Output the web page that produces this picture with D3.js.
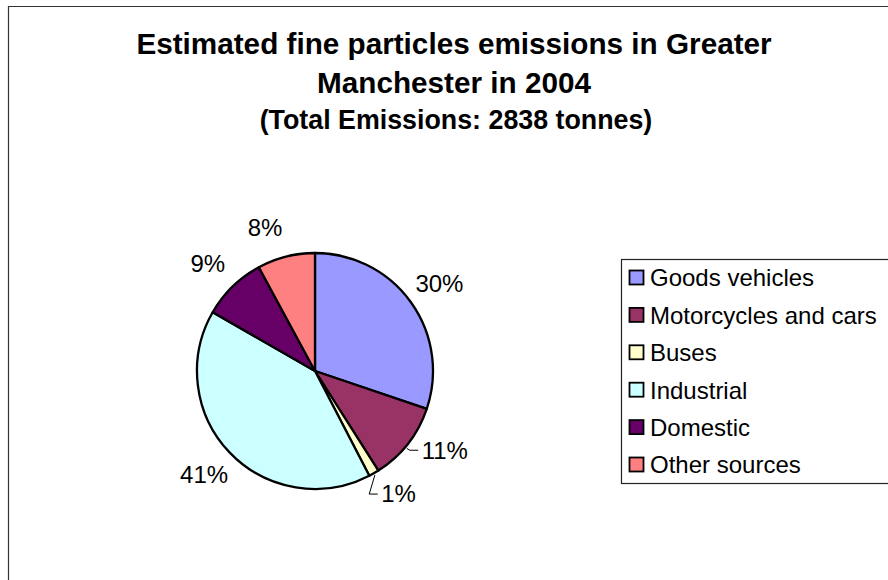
<!DOCTYPE html>
<html>
<head>
<meta charset="utf-8">
<script src="https://cdn.jsdelivr.net/npm/d3@7"></script>
<style>
  html, body { margin: 0; padding: 0; background: #fff; }
  svg { display: block; }
  text { font-family: "Liberation Sans", Arial, sans-serif; fill: #000; }
</style>
</head>
<body>
<svg id="chart" width="888" height="580"></svg>
<script>
// Emission sources, in the order they run clockwise from 12 o'clock
const sources = ["Goods vehicles", "Motorcycles and cars", "Buses", "Industrial", "Domestic", "Other sources"];
// Estimated emissions per source, tonnes (total 2838)
const tonnes = [857, 306, 40, 1161, 250, 224];
const colours = ["#9999FF", "#993366", "#FFFFCC", "#CCFFFF", "#660066", "#FF8080"];

const titleLines = ["Estimated fine particles emissions in Greater", "Manchester in 2004"];
const subtitle = "(Total Emissions: 2838 tonnes)";

// Label layout: angular nudge (degrees) from each slice's mid angle, and which get a leader line
const labelNudge = [0.6, -6.7, -6, 0.6, -0.6, -5];
const hasLeader = [false, true, true, false, false, false];

const W = 888, H = 580;
const svg = d3.select("#chart");

// Chart area frame (top and left edges)
svg.append("path")
  .attr("d", `M8.5,${H} V6.5 H${W}`)
  .attr("fill", "none")
  .attr("stroke", "#333")
  .attr("stroke-width", 1.2);

// Titles
const cx = 454;
svg.append("text").attr("x", cx).attr("y", 53.5).attr("text-anchor", "middle")
  .style("font-weight", "bold").style("font-size", "29.7px").text(titleLines[0]);
svg.append("text").attr("x", cx).attr("y", 93).attr("text-anchor", "middle")
  .style("font-weight", "bold").style("font-size", "29.7px").text(titleLines[1]);
svg.append("text").attr("x", cx + 2).attr("y", 129).attr("text-anchor", "middle")
  .style("font-weight", "bold").style("font-size", "26.8px").text(subtitle);

// Pie
const R = 118;
const pieCenter = [315, 371];
const total = d3.sum(tonnes);
const data = sources.map((s, i) => ({ source: s, value: tonnes[i], colour: colours[i], i }));

const pie = d3.pie().value(d => d.value).sort(null);
const arcs = pie(data);
const arc = d3.arc().innerRadius(0).outerRadius(R);

const g = svg.append("g").attr("transform", `translate(${pieCenter[0]},${pieCenter[1]})`);

g.selectAll("path.slice")
  .data(arcs)
  .join("path")
  .attr("class", "slice")
  .attr("d", arc)
  .attr("fill", d => d.data.colour)
  .attr("stroke", "#000")
  .attr("stroke-width", 2.3)
  .attr("stroke-linejoin", "round");

// Percentage labels
const pct = d3.format(".0%");
const polar = (angle, r) => [r * Math.sin(angle), -r * Math.cos(angle)];
const labelR = 152;

arcs.forEach(a => {
  const i = a.data.i;
  const mid = (a.startAngle + a.endAngle) / 2;
  const la = mid + labelNudge[i] * Math.PI / 180;
  const [lx, ly] = polar(la, labelR);
  const txt = pct(a.data.value / total);
  if (hasLeader[i]) {
    // text begins to the right of a short elbow line pointing back to the slice
    const tx = lx - 23;
    const edge = polar(mid + (i === 1 ? 2 : 0) * Math.PI / 180, R + 2);
    g.append("polyline")
      .attr("points", [edge, [tx - 12, ly], [tx - 3.5, ly]].map(p => p.join(",")).join(" "))
      .attr("fill", "none")
      .attr("stroke", "#000")
      .attr("stroke-width", 1);
    g.append("text").attr("x", tx).attr("y", ly).attr("dy", "0.35em")
      .attr("text-anchor", "start").style("font-size", "24px").text(txt);
  } else {
    g.append("text").attr("x", lx).attr("y", ly).attr("dy", "0.35em")
      .attr("text-anchor", "middle").style("font-size", "24px").text(txt);
  }
});

// Legend
const legend = svg.append("g").attr("transform", "translate(621,259)");
legend.append("rect")
  .attr("x", 0.5).attr("y", 0.5)
  .attr("width", 300).attr("height", 224)
  .attr("fill", "#fff")
  .attr("stroke", "#222")
  .attr("stroke-width", 1.2);

const rowY = d3.scalePoint().domain(sources).range([19, 206]);
const rows = legend.selectAll("g.row").data(data).join("g")
  .attr("class", "row")
  .attr("transform", d => `translate(0,${rowY(d.source)})`);
rows.append("rect")
  .attr("x", 8.5).attr("y", -7.5)
  .attr("width", 14).attr("height", 14)
  .attr("fill", d => d.colour)
  .attr("stroke", "#000")
  .attr("stroke-width", 1.8);
rows.append("text")
  .attr("x", 29).attr("dy", "0.35em")
  .style("font-size", "24px")
  .text(d => d.source);
</script>
</body>
</html>
